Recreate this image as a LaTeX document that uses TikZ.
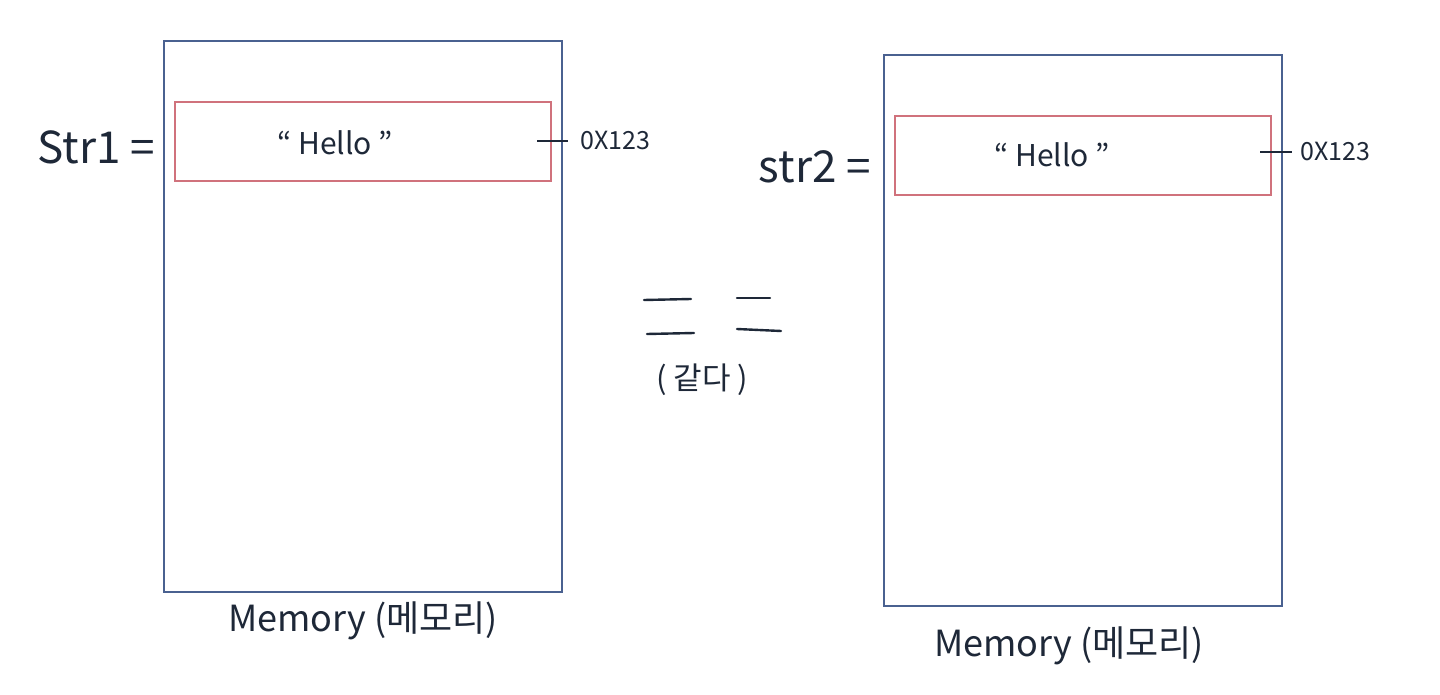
\documentclass[tikz,border=0pt]{standalone}
\usepackage{fontspec}
\setmainfont{Noto Sans CJK KR}
\definecolor{memblue}{HTML}{4A6190}
\definecolor{cellred}{HTML}{D0727C}
\definecolor{ink}{HTML}{1E2838}
\begin{document}
\begin{tikzpicture}[x=1pt,y=-1pt,
  mem/.style={draw=memblue,line width=1.6pt,inner sep=0,anchor=north west},
  cell/.style={draw=cellred,line width=1.6pt,inner sep=0,anchor=north west},
  hand/.style={text=ink,inner sep=0},
  big/.style={hand,font=\fontsize{44}{44}\selectfont},
  mid/.style={hand,font=\fontsize{30}{30}\selectfont},
  small/.style={hand,font=\fontsize{25}{25}\selectfont},
  lbl/.style={hand,font=\fontsize{36}{36}\selectfont},
  stroke/.style={draw=ink,line width=2.4pt,line cap=round},
  tick/.style={draw=ink,line width=1.8pt}]
\useasboundingbox (0,0) rectangle (1440,695);
\fill[white] (0,0) rectangle (1440,695);
% left memory
\node[mem,minimum width=398pt,minimum height=551pt] (mem1) at (163,40) {};
\node[cell,minimum width=376pt,minimum height=79pt] (cell1) at (174,101) {};
\node[mid] (hello1) at (335,143) {“ Hello ”};
\node[big,anchor=east] (str1) at (155,147) {Str1 =};
\node[small,anchor=west] (addr1) at (580,141) {0X123};
\coordinate (t1) at (537,141);
\draw[tick] (t1) -- ([xshift=-12pt]addr1.west);
\node[lbl] (memlbl1) at (363,621) {Memory (메모리)};
% right memory
\node[mem,minimum width=398pt,minimum height=551pt] (mem2) at (883,54) {};
\node[cell,minimum width=376pt,minimum height=79pt] (cell2) at (894,115) {};
\node[mid] (hello2) at (1052,155) {“ Hello ”};
\node[big,anchor=east] (str2) at (871,167) {str2 =};
\node[small,anchor=west] (addr2) at (1300,152) {0X123};
\coordinate (t2) at (1260,152);
\draw[tick] (t2) -- ([xshift=-8pt]addr2.west);
\node[lbl] (memlbl2) at (1069,646) {Memory (메모리)};
% equals
\coordinate (e1a) at (644,300); \coordinate (e1b) at (691,299);
\coordinate (e2a) at (647,334); \coordinate (e2b) at (694,333);
\coordinate (e3a) at (737,298); \coordinate (e3b) at (770,298);
\coordinate (e4a) at (737,329); \coordinate (e4b) at (781,331);
\draw[stroke] (e1a) -- (e1b);
\draw[stroke] (e2a) -- (e2b);
\draw[stroke] (e3a) -- (e3b);
\draw[stroke] (e4a) -- (e4b);
\node[lbl,font=\fontsize{31}{31}\selectfont] (same) at (702,380) {( 같다 )};
\end{tikzpicture}
\end{document}
